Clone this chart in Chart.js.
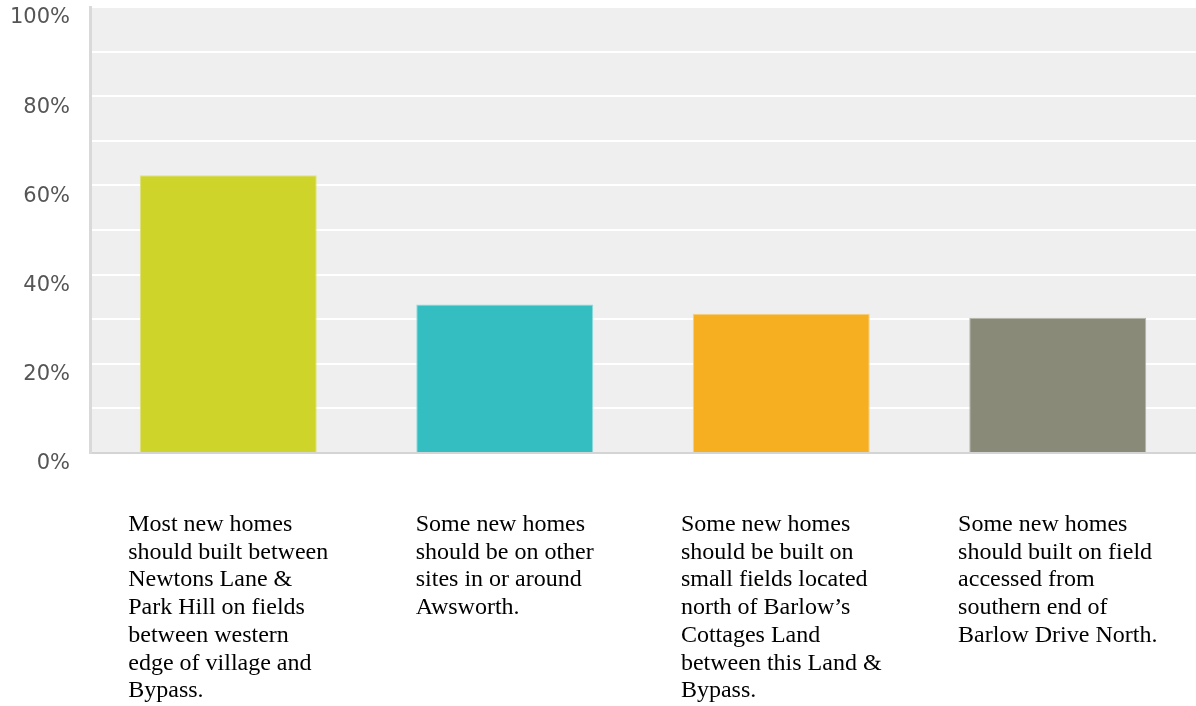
<!DOCTYPE html>
<html>
<head>
<meta charset="utf-8">
<script src="https://cdn.jsdelivr.net/npm/chart.js@4"></script>
<style>
    html, body { margin: 0; padding: 0; background: #fff; }
    #wrap { width: 1196px; height: 706px; }
</style>
</head>
<body>
<div id="wrap"><canvas id="myChart"></canvas></div>
<script>
// survey options (one array of lines per bar)
var optionLabels = [
    ['Most new homes', 'should built between', 'Newtons Lane &', 'Park Hill on fields', 'between western', 'edge of village and', 'Bypass.'],
    ['Some new homes', 'should be on other', 'sites in or around', 'Awsworth.'],
    ['Some new homes', 'should be built on', 'small fields located', 'north of Barlow\u2019s', 'Cottages Land', 'between this Land &', 'Bypass.'],
    ['Some new homes', 'should built on field', 'accessed from', 'southern end of', 'Barlow Drive North.']
];
var responsePercent = [62.3, 33.3, 31.2, 30.3];
var barColors = ['#cfd42a', '#35bec1', '#f6af20', '#8a8a78'];
var barEdges = ['#dfe27a', '#8fdadc', '#f9cf7c', '#b3b3a6'];
var yTickValues = [0, 20, 40, 60, 80, 100];

// grey plot background behind the grid
var plotBackground = {
    id: 'plotBackground',
    beforeDraw: function(chart) {
        var ctx = chart.ctx, a = chart.chartArea;
        ctx.save();
        ctx.fillStyle = '#efefef';
        ctx.fillRect(a.left, a.top, a.right - a.left, a.bottom - a.top);
        ctx.restore();
    }
};

// left aligned text blocks under each bar
var wrappedLabels = {
    id: 'wrappedLabels',
    afterDraw: function(chart) {
        var ctx = chart.ctx;
        var xs = chart.scales.x;
        ctx.save();
        ctx.font = '24px "Liberation Serif", "Times New Roman", serif';
        ctx.fillStyle = '#000';
        ctx.textAlign = 'left';
        ctx.textBaseline = 'alphabetic';
        optionLabels.forEach(function(lines, i) {
            var cx = xs.getPixelForValue(i);
            var maxW = 0;
            lines.forEach(function(l) { maxW = Math.max(maxW, ctx.measureText(l).width); });
            var left = cx - maxW / 2;
            lines.forEach(function(l, j) {
                ctx.fillText(l, left, chart.chartArea.bottom + 78 + j * 27.7);
            });
        });
        ctx.restore();
    }
};

var ctx = document.getElementById('myChart').getContext('2d');
var myChart = new Chart(ctx, {
    type: 'bar',
    data: {
        labels: optionLabels.map(function(l) { return l.join(' '); }),
        datasets: [{
            data: responsePercent,
            backgroundColor: barColors,
            borderColor: barEdges,
            borderWidth: 1,
            categoryPercentage: 1,
            barPercentage: 0.64
        }]
    },
    options: {
        responsive: true,
        maintainAspectRatio: false,
        animation: false,
        layout: { padding: { top: 7, right: 0, bottom: 253, left: 0 } },
        plugins: {
            legend: { display: false },
            tooltip: { enabled: false }
        },
        scales: {
            x: {
                grid: { display: false },
                ticks: { display: false },
                border: { color: '#d4d4d4', width: 2 },
                afterFit: function(scale) { scale.height = 0; }
            },
            y: {
                min: 0,
                max: 100,
                grid: { color: '#ffffff', lineWidth: 2, drawTicks: false },
                border: { color: '#d9d9d9', width: 3 },
                ticks: {
                    stepSize: 10,
                    padding: 20,
                    labelOffset: 11,
                    color: '#555',
                    font: { family: '"DejaVu Sans", Verdana, sans-serif', size: 21 },
                    callback: function(v) { return yTickValues.indexOf(v) >= 0 ? v + '%' : ''; }
                },
                afterFit: function(scale) {
                    scale.width = 90;
                    scale.paddingTop = 0;
                    scale.paddingBottom = 0;
                }
            }
        }
    },
    plugins: [plotBackground, wrappedLabels]
});
</script>
</body>
</html>
